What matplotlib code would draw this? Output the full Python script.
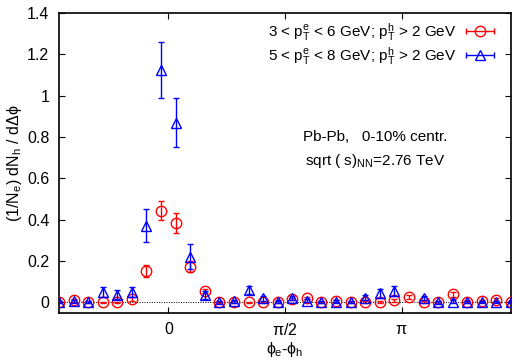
import numpy as np
import matplotlib
matplotlib.use("Agg")
import matplotlib.pyplot as plt
from matplotlib.legend_handler import HandlerErrorbar
from matplotlib.container import ErrorbarContainer

plt.rcParams['font.family'] = ['Liberation Sans', 'DejaVu Sans']
plt.rcParams['mathtext.fontset'] = 'custom'
plt.rcParams['mathtext.rm'] = 'Liberation Sans'
plt.rcParams['mathtext.it'] = 'Liberation Sans'
plt.rcParams['mathtext.sf'] = 'Liberation Sans'
plt.rcParams['font.size'] = 11

# 32 bins in delta phi, from -pi/2 to 3pi/2
nbins = 32
bin_edges = np.linspace(-np.pi / 2, 3 * np.pi / 2, nbins + 1)
dphi = 0.5 * (bin_edges[:-1] + bin_edges[1:])

# 3 < pT(e) < 6 GeV
low_vals = [0.0, 0.01, 0.0, 0.0, 0.0, 0.017, 0.153, 0.444, 0.382, 0.172,
            0.055, 0.0, 0.003, 0.0, 0.0, 0.0, 0.015, 0.021, 0.0, 0.007,
            0.0, 0.0, 0.002, 0.009, 0.028, 0.0, 0.0, 0.039, 0.004, 0.005,
            0.013, 0.0]
low_errs = [0.005, 0.006, 0.005, 0.004, 0.004, 0.01, 0.028, 0.045, 0.048, 0.027,
            0.01, 0.005, 0.005, 0.004, 0.004, 0.005, 0.006, 0.007, 0.005, 0.006,
            0.005, 0.005, 0.004, 0.008, 0.01, 0.005, 0.005, 0.012, 0.005, 0.005,
            0.006, 0.005]

# 5 < pT(e) < 8 GeV
high_vals = [0.0, 0.005, 0.0, 0.05, 0.038, 0.05, 0.371, 1.125, 0.87, 0.22,
             0.035, 0.0, 0.005, 0.06, 0.019, 0.003, 0.02, 0.008, 0.0, 0.003,
             0.0, 0.022, 0.043, 0.055, np.nan, 0.019, 0.0, 0.003, 0.0, 0.0,
             0.002, 0.0]
high_errs = [0.005, 0.006, 0.005, 0.025, 0.022, 0.022, 0.08, 0.137, 0.12, 0.06,
             0.02, 0.006, 0.006, 0.02, 0.012, 0.006, 0.01, 0.008, 0.005, 0.006,
             0.005, 0.012, 0.02, 0.025, np.nan, 0.01, 0.006, 0.008, 0.005, 0.005,
             0.005, 0.005]

label_low = r'3 < p$_\mathrm{T}^\mathrm{e}$ < 6 GeV; p$_\mathrm{T}^\mathrm{h}$ > 2 GeV'
label_high = r'5 < p$_\mathrm{T}^\mathrm{e}$ < 8 GeV; p$_\mathrm{T}^\mathrm{h}$ > 2 GeV'

fig = plt.figure(figsize=(5.15, 3.59), dpi=100)
ax = fig.add_axes([0.1146, 0.129, 0.8776, 0.8348])

ax.axhline(0, color='k', ls=(0, (1, 1.5)), lw=0.7, zorder=1)

ax.errorbar(dphi, low_vals, yerr=low_errs, fmt='o', ms=7.5, mfc='none',
            mec='#ff0000', color='#ff0000', ecolor='#ff0000', elinewidth=1,
            capsize=2, capthick=1, mew=1, zorder=3)
ax.errorbar(dphi, high_vals, yerr=high_errs, fmt='^', ms=7.5, mfc='none',
            mec='#0000ff', color='#0000ff', ecolor='#0000ff', elinewidth=1,
            capsize=2, capthick=1, mew=1, zorder=4)

# legend proxies with horizontal bars like the original
h_low = ax.errorbar([np.nan], [np.nan], xerr=[1], fmt='o', ms=7.5, mfc='none',
                    color='#ff0000', capsize=2, elinewidth=1, mew=1)
h_high = ax.errorbar([np.nan], [np.nan], xerr=[1], fmt='^', ms=7.5, mfc='none',
                     color='#0000ff', capsize=2, elinewidth=1, mew=1)
ax.legend([h_low, h_high], [label_low, label_high], loc='upper right',
          frameon=False, markerfirst=False, handlelength=1.8,
          handletextpad=0.6, labelspacing=0.15, fontsize=11,
          bbox_to_anchor=(0.985, 1.01), borderaxespad=0.3,
          handler_map={ErrorbarContainer: HandlerErrorbar(xerr_size=0.9)})

ax.text(0.70, 0.585, 'Pb-Pb,   0-10% centr.', transform=ax.transAxes,
        ha='center', va='center', fontsize=11)
ax.text(0.70, 0.505, r'sqrt ( s)$_\mathrm{NN}$=2.76 TeV', transform=ax.transAxes,
        ha='center', va='center', fontsize=11)

ax.set_xlim(dphi[0], dphi[-1])
ax.set_ylim(-0.05, 1.4)
ax.set_xticks([0, np.pi / 2, np.pi])
ax.set_xticklabels(['0', r'$\pi$/2', r'$\pi$'])
yt = [0, 0.2, 0.4, 0.6, 0.8, 1.0, 1.2, 1.4]
ax.set_yticks(yt)
ax.set_yticklabels(['0', '0.2', '0.4', '0.6', '0.8', '1', '1.2', '1.4'])
ax.tick_params(direction='in', top=True, right=True, length=4, width=0.8,
               labelsize=11.5, pad=7)
for s in ax.spines.values():
    s.set_linewidth(1.2)

ax.set_xlabel(r'$\phi_\mathrm{e}$-$\phi_\mathrm{h}$', fontsize=11.5, labelpad=1)
ax.set_ylabel(r'(1/N$_\mathrm{e}$) dN$_\mathrm{h}$ / d$\Delta\phi$', fontsize=11.5,
              labelpad=2)

fig.savefig('out.png', dpi=100)
